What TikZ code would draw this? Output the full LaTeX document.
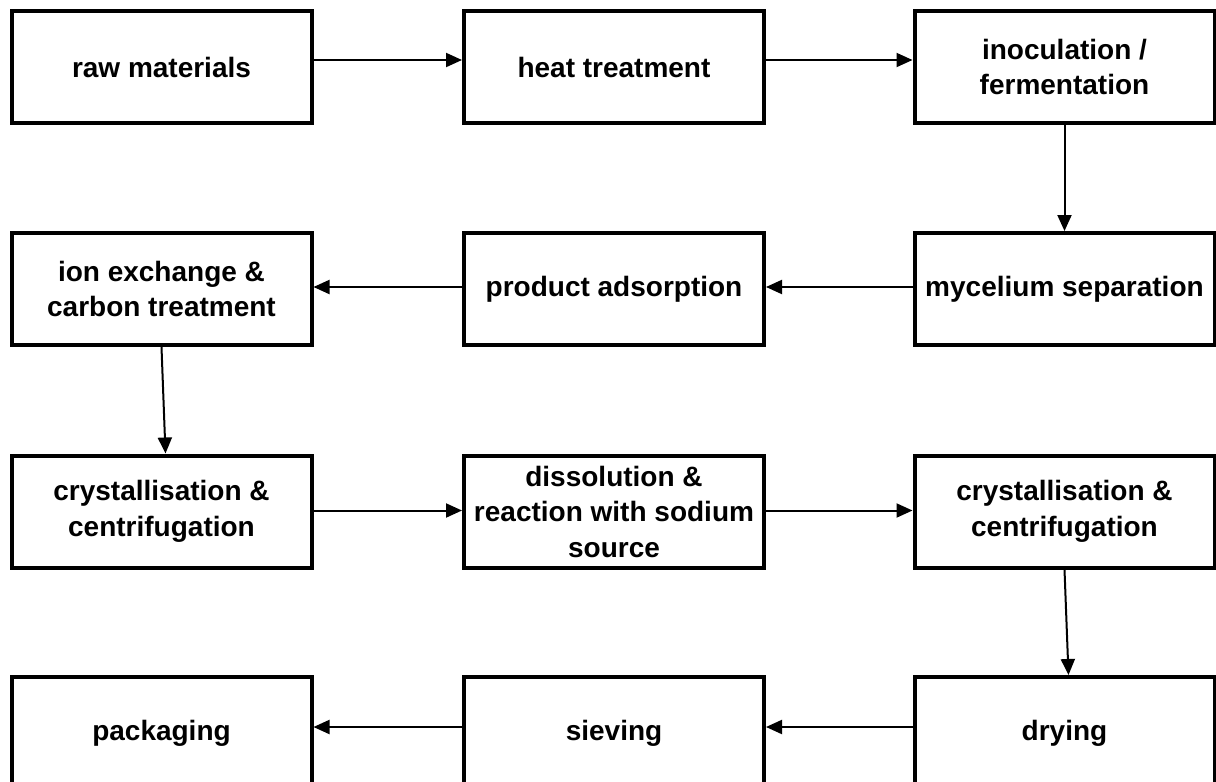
\documentclass[tikz,border=0pt]{standalone}
\usepackage{fontspec}
\setmainfont{Liberation Sans}
\usetikzlibrary{arrows.meta}

\tikzset{
  stagebox/.style={draw,line width=4pt,minimum width=300pt,minimum height=112pt,
    inner sep=0pt,align=center,font=\fontsize{28}{35.5}\selectfont\bfseries},
  flow/.style={line width=2pt,-{Triangle[length=16pt,width=14pt]}}
}
\providecommand{\Stage}[3]{
\node[stagebox] (#1) at (#2) {#3};
}

\begin{document}
\begin{tikzpicture}[x=1pt,y=-1pt]
\useasboundingbox (0,0) rectangle (1216,782);
\Stage{raw}{161.5,67}{raw materials}
\Stage{heat}{614,67}{heat treatment}
\Stage{inoc}{1064.5,67}{inoculation /\\fermentation}
\Stage{myc}{1064.5,289}{mycelium separation}
\Stage{adsorb}{614,289}{product adsorption}
\Stage{ion}{161.5,289}{ion exchange \&\\carbon treatment}
\Stage{crystA}{161.5,511.5}{crystallisation \&\\centrifugation}
\Stage{dissol}{614,511.5}{dissolution \&\\reaction with sodium\\source}
\Stage{crystB}{1064.5,511.5}{crystallisation \&\\centrifugation}
\Stage{dry}{1064.5,733}{drying}
\Stage{sieve}{614,733}{sieving}
\Stage{pack}{161.5,733}{packaging}
% connectors
\draw[flow] ([yshift=7pt]raw.east) -- ([yshift=7pt]heat.west);
\draw[flow] ([yshift=7pt]heat.east) -- ([yshift=7pt]inoc.west);
\draw[flow] (inoc.south) -- (myc.north);
\draw[flow] ([yshift=2pt]myc.west) -- ([yshift=2pt]adsorb.east);
\draw[flow] ([yshift=2pt]adsorb.west) -- ([yshift=2pt]ion.east);
\draw[flow] (ion.south) -- ([xshift=4pt]crystA.north);
\draw[flow] ([yshift=1pt]crystA.east) -- ([yshift=1pt]dissol.west);
\draw[flow] ([yshift=1pt]dissol.east) -- ([yshift=1pt]crystB.west);
\draw[flow] (crystB.south) -- ([xshift=4pt]dry.north);
\draw[flow] ([yshift=6pt]dry.west) -- ([yshift=6pt]sieve.east);
\draw[flow] ([yshift=6pt]sieve.west) -- ([yshift=6pt]pack.east);
\end{tikzpicture}
\end{document}
